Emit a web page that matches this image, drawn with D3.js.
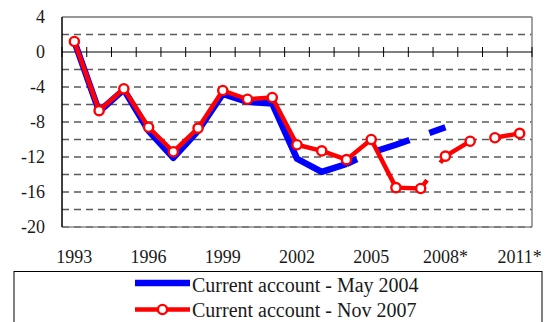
<!DOCTYPE html>
<html>
<head>
<meta charset="utf-8">
<script src="https://cdn.jsdelivr.net/npm/d3@7"></script>
<style>
  html, body { margin: 0; padding: 0; background: #fff; }
  svg { display: block; }
</style>
</head>
<body>
<svg id="chart" width="548" height="322" font-family="'Liberation Serif', 'Times New Roman', Times, 'Tinos', 'Noto Serif', 'DejaVu Serif', serif"></svg>
<script>
// Years on the category axis
const years = ["1993","1994","1995","1996","1997","1998","1999","2000","2001","2002",
               "2003","2004","2005","2006","2007","2008","2009","2010","2011"];

// Labelled categories and their text (forecast years carry an asterisk)
const labelYears = ["1993","1996","1999","2002","2005","2008","2011"];
const labelText  = ["1993","1996","1999","2002","2005","2008*","2011*"];

// Value axis ticks and dashed gridlines
const yTicks = [4, 0, -4, -8, -12, -16, -20];
const gridValues = [2, -2, -4, -6, -8, -10, -12, -14, -16, -18, -20];

// Current account, % — May 2004 vintage (1993–2008), projections from 2004
const mayYears  = ["1993","1994","1995","1996","1997","1998","1999","2000",
                   "2001","2002","2003","2004","2005","2006","2007","2008"];
const mayValues = [1.2, -6.8, -4.3, -9.0, -12.1, -9.0, -4.8, -5.7,
                   -5.9, -12.2, -13.7, -12.8, -11.5, -10.6, -9.6, -8.6];
const mayForecastFrom = "2004";

// Current account, % — Nov 2007 vintage (1993–2011), projections from 2007
const novValues = [1.2, -6.7, -4.2, -8.6, -11.4, -8.7, -4.4, -5.4, -5.2, -10.6,
                   -11.3, -12.3, -10.0, -15.5, -15.6, -11.9, -10.2, -9.8, -9.3];
const novForecastFrom = "2007";

const svg = d3.select("#chart");
const textColor = "#1a1a1a";
const plot = { left: 62, right: 532, top: 17, bottom: 227 };

const x = d3.scaleBand().domain(years).range([plot.left, plot.right]).padding(0);
const y = d3.scaleLinear().domain([-20, 4]).range([plot.bottom, plot.top]);
const cx = yr => x(yr) + x.bandwidth() / 2;

// Dashed horizontal gridlines
svg.append("g").selectAll("line").data(gridValues).join("line")
  .attr("x1", plot.left).attr("x2", plot.right)
  .attr("y1", d => y(d)).attr("y2", d => y(d))
  .attr("stroke", d => d === -20 ? "#8a8a8a" : "#5a5a5a")
  .attr("stroke-width", 1.3)
  .attr("stroke-dasharray", d => d === -20 ? null : "7,5");
svg.append("line")
  .attr("x1", plot.left).attr("x2", plot.right)
  .attr("y1", y(-20)).attr("y2", y(-20))
  .attr("stroke", "#555").attr("stroke-width", 1).attr("stroke-dasharray", "7,5");

// Plot frame: top, right (grey), left axis
svg.append("line").attr("x1", plot.left).attr("x2", plot.right)
  .attr("y1", y(4)).attr("y2", y(4)).attr("stroke", "#333").attr("stroke-width", 1);
svg.append("line").attr("x1", plot.right).attr("x2", plot.right)
  .attr("y1", plot.top).attr("y2", plot.bottom).attr("stroke", "#8a8a8a").attr("stroke-width", 1.6);
svg.append("line").attr("x1", plot.left).attr("x2", plot.left)
  .attr("y1", plot.top).attr("y2", plot.bottom).attr("stroke", "#000").attr("stroke-width", 1.5);

// Zero line with tick marks on category boundaries
svg.append("line").attr("x1", plot.left).attr("x2", plot.right)
  .attr("y1", y(0)).attr("y2", y(0)).attr("stroke", "#000").attr("stroke-width", 1.2);
const boundaries = years.map(d => x(d)).concat([plot.right]);
svg.append("g").selectAll("line").data(boundaries).join("line")
  .attr("x1", d => d).attr("x2", d => d)
  .attr("y1", y(0) - 5).attr("y2", y(0) + 5)
  .attr("stroke", "#000").attr("stroke-width", 1);

// Value axis labels
svg.append("g").selectAll("text").data(yTicks).join("text")
  .attr("x", 45).attr("y", d => y(d))
  .attr("text-anchor", "end").attr("dominant-baseline", "central")
  .attr("font-size", 18).attr("fill", textColor)
  .text(d => d);

// Category axis labels
svg.append("g").selectAll("text").data(labelYears).join("text")
  .attr("x", d => cx(d)).attr("y", 263)
  .attr("text-anchor", "middle").attr("font-size", 18).attr("fill", textColor)
  .text((d, i) => labelText[i]);

const line = d3.line().x(d => cx(d.year)).y(d => y(d.value));

// May 2004 series
const may = mayYears.map((yr, i) => ({ year: yr, value: mayValues[i] }));
const mayCut = mayYears.indexOf(mayForecastFrom);
svg.append("path").datum(may.slice(0, mayCut + 1))
  .attr("d", line).attr("fill", "none").attr("stroke", "#0000ff")
  .attr("stroke-width", 6.5).attr("stroke-linejoin", "round");
svg.append("path").datum(may.slice(mayCut))
  .attr("d", line).attr("fill", "none").attr("stroke", "#0000ff")
  .attr("stroke-width", 6.5).attr("stroke-dasharray", "35,21").attr("stroke-dashoffset", 23.4);

// Nov 2007 series
const nov = years.map((yr, i) => ({ year: yr, value: novValues[i] }));
const novCut = years.indexOf(novForecastFrom);
svg.append("path").datum(nov.slice(0, novCut + 1))
  .attr("d", line).attr("fill", "none").attr("stroke", "#ff0000")
  .attr("stroke-width", 4.5).attr("stroke-linejoin", "round");
svg.append("path").datum(nov.slice(novCut))
  .attr("d", line).attr("fill", "none").attr("stroke", "#ff0000")
  .attr("stroke-width", 4.5).attr("stroke-dasharray", "37,22").attr("stroke-dashoffset", 26.6);
svg.append("g").selectAll("circle").data(nov).join("circle")
  .attr("cx", d => cx(d.year)).attr("cy", d => y(d.value)).attr("r", 4.6)
  .attr("fill", "#fff").attr("stroke", "#ff0000").attr("stroke-width", 2.4);

// Legend
const lg = svg.append("g");
lg.append("rect").attr("x", 14).attr("y", 271.5).attr("width", 528).attr("height", 80)
  .attr("fill", "#fff").attr("stroke", "#000").attr("stroke-width", 1);
lg.append("line").attr("x1", 135).attr("x2", 190).attr("y1", 283).attr("y2", 283)
  .attr("stroke", "#0000ff").attr("stroke-width", 6.5);
lg.append("text").attr("x", 192).attr("y", 291.5).attr("font-size", 20).attr("fill", textColor)
  .text("Current account - May 2004");
lg.append("line").attr("x1", 135).attr("x2", 190).attr("y1", 309.5).attr("y2", 309.5)
  .attr("stroke", "#ff0000").attr("stroke-width", 4.5);
lg.append("circle").attr("cx", 162.5).attr("cy", 309.5).attr("r", 4.6)
  .attr("fill", "#fff").attr("stroke", "#ff0000").attr("stroke-width", 2.4);
lg.append("text").attr("x", 192).attr("y", 316.5).attr("font-size", 20).attr("fill", textColor)
  .text("Current account - Nov 2007");
</script>
</body>
</html>
